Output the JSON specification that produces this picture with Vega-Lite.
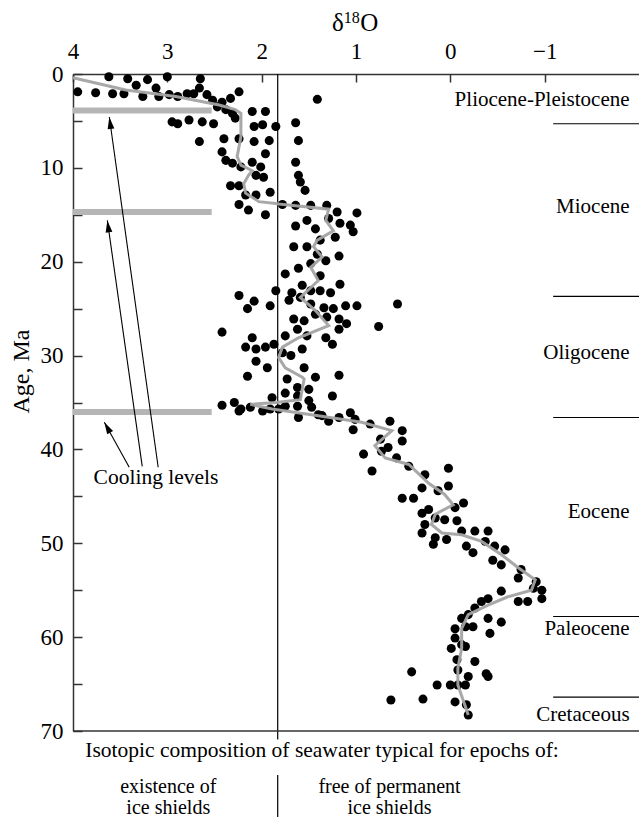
{
  "$schema": "https://vega.github.io/schema/vega-lite/v6.json",
  "width": 566,
  "height": 657,
  "autosize": "none",
  "padding": {"left": 73, "top": 74, "right": 0, "bottom": 86},
  "background": "white",
  "config": {"view": {"stroke": null}, "font": "Liberation Serif", "axis": {"grid": false}},
  "datasets": {
    "points": [
      {"d18O":3.62,"age":0.3},{"d18O":3.42,"age":0.5},{"d18O":3.21,"age":0.6},{"d18O":3.00,"age":0.3},{"d18O":2.65,"age":0.5},{"d18O":3.95,"age":1.9},{"d18O":3.76,"age":2.0},{"d18O":3.58,"age":2.1},{"d18O":3.46,"age":2.1},{"d18O":3.33,"age":1.2},{"d18O":3.26,"age":2.4},{"d18O":3.12,"age":1.5},{"d18O":3.09,"age":2.4},{"d18O":2.98,"age":2.2},{"d18O":2.89,"age":2.4},{"d18O":2.79,"age":2.1},{"d18O":2.72,"age":2.1},{"d18O":2.66,"age":1.5},{"d18O":2.58,"age":2.2},{"d18O":2.52,"age":2.8},{"d18O":2.42,"age":3.0},{"d18O":2.33,"age":2.6},{"d18O":2.24,"age":1.9},{"d18O":2.47,"age":3.5},{"d18O":2.38,"age":3.8},{"d18O":2.31,"age":4.2},{"d18O":2.10,"age":4.0},{"d18O":1.96,"age":4.0},{"d18O":2.28,"age":4.7},{"d18O":1.41,"age":2.7},
      {"d18O":2.95,"age":5.1},{"d18O":2.89,"age":5.3},{"d18O":2.77,"age":4.9},{"d18O":2.63,"age":5.1},{"d18O":2.51,"age":5.3},{"d18O":2.08,"age":5.6},{"d18O":1.99,"age":5.4},{"d18O":1.85,"age":5.6},{"d18O":1.64,"age":5.2},{"d18O":1.61,"age":7.1},{"d18O":2.66,"age":7.2},{"d18O":2.40,"age":6.9},{"d18O":2.24,"age":6.9},{"d18O":2.08,"age":7.2},{"d18O":1.92,"age":7.1},{"d18O":1.96,"age":8.5},{"d18O":2.42,"age":8.3},{"d18O":2.38,"age":9.2},{"d18O":2.31,"age":9.5},{"d18O":2.22,"age":9.9},{"d18O":2.10,"age":9.4},{"d18O":2.01,"age":9.9},{"d18O":1.64,"age":9.4},
      {"d18O":1.98,"age":11.0},{"d18O":2.06,"age":10.8},{"d18O":1.61,"age":10.8},{"d18O":1.59,"age":11.5},{"d18O":1.54,"age":12.4},{"d18O":2.33,"age":11.9},{"d18O":2.24,"age":11.9},{"d18O":2.17,"age":12.9},{"d18O":2.06,"age":12.9},{"d18O":1.91,"age":12.6},{"d18O":2.24,"age":13.9},{"d18O":2.14,"age":14.5},{"d18O":1.96,"age":15.0},{"d18O":1.78,"age":13.9},{"d18O":1.64,"age":14.0},{"d18O":1.48,"age":14.0},{"d18O":1.31,"age":14.0},
      {"d18O":1.20,"age":14.7},{"d18O":0.99,"age":14.8},{"d18O":1.29,"age":15.4},{"d18O":1.17,"age":15.9},{"d18O":1.06,"age":16.1},{"d18O":1.03,"age":16.8},{"d18O":1.64,"age":16.2},{"d18O":1.52,"age":15.6},{"d18O":1.43,"age":16.5},{"d18O":1.22,"age":17.4},{"d18O":1.38,"age":17.7},{"d18O":1.66,"age":18.4},{"d18O":1.52,"age":18.4},{"d18O":1.41,"age":19.2},{"d18O":1.32,"age":19.9},{"d18O":1.18,"age":19.4},
      {"d18O":1.61,"age":20.7},{"d18O":1.48,"age":20.2},{"d18O":1.75,"age":21.3},{"d18O":1.38,"age":21.5},{"d18O":1.57,"age":22.5},{"d18O":1.48,"age":23.1},{"d18O":1.38,"age":23.1},{"d18O":1.27,"age":23.3},{"d18O":1.17,"age":22.4},{"d18O":1.85,"age":23.1},{"d18O":1.68,"age":23.3},{"d18O":1.71,"age":24.1},{"d18O":1.59,"age":23.8},{"d18O":1.48,"age":24.5},{"d18O":1.34,"age":24.9},{"d18O":1.24,"age":25.0},{"d18O":1.11,"age":24.7},{"d18O":0.99,"age":24.7},{"d18O":0.56,"age":24.5},{"d18O":2.24,"age":23.6},{"d18O":2.08,"age":24.2},{"d18O":2.15,"age":25.0},{"d18O":1.91,"age":24.7},
      {"d18O":1.66,"age":26.1},{"d18O":1.55,"age":26.3},{"d18O":1.43,"age":25.6},{"d18O":1.31,"age":25.9},{"d18O":1.18,"age":26.1},{"d18O":1.10,"age":26.6},{"d18O":1.18,"age":27.2},{"d18O":0.76,"age":26.9},{"d18O":1.62,"age":27.2},{"d18O":1.75,"age":27.9},{"d18O":1.52,"age":27.9},{"d18O":1.32,"age":28.1},{"d18O":1.25,"age":28.8},{"d18O":2.10,"age":28.1},{"d18O":2.17,"age":29.1},{"d18O":2.06,"age":29.3},{"d18O":1.96,"age":29.1},{"d18O":1.87,"age":28.8},{"d18O":1.78,"age":29.7},{"d18O":1.69,"age":30.0},{"d18O":1.57,"age":29.3},{"d18O":2.42,"age":27.5},
      {"d18O":2.06,"age":30.6},{"d18O":1.94,"age":31.3},{"d18O":1.55,"age":31.3},{"d18O":1.43,"age":32.3},{"d18O":1.18,"age":32.1},{"d18O":2.15,"age":32.2},{"d18O":1.73,"age":32.5},{"d18O":1.25,"age":34.3},{"d18O":1.50,"age":33.6},{"d18O":1.62,"age":33.4},{"d18O":1.89,"age":34.5},{"d18O":1.75,"age":34.0},{"d18O":1.62,"age":34.3},
      {"d18O":2.42,"age":35.3},{"d18O":2.29,"age":35.0},{"d18O":2.22,"age":35.7},{"d18O":2.12,"age":35.5},{"d18O":1.99,"age":35.9},{"d18O":1.91,"age":35.7},{"d18O":1.82,"age":35.7},{"d18O":1.75,"age":35.4},{"d18O":1.62,"age":35.4},{"d18O":1.50,"age":34.8},{"d18O":1.47,"age":35.5},{"d18O":1.61,"age":36.6},{"d18O":1.36,"age":36.4},{"d18O":1.18,"age":36.6},{"d18O":1.06,"age":36.1},{"d18O":1.03,"age":37.9},{"d18O":2.24,"age":35.9},{"d18O":1.40,"age":36.3},{"d18O":1.29,"age":37.0},{"d18O":1.01,"age":36.8},{"d18O":0.85,"age":37.3},{"d18O":0.64,"age":37.0},{"d18O":0.51,"age":38.0},{"d18O":0.51,"age":39.1},{"d18O":0.74,"age":38.9},{"d18O":0.66,"age":39.8},
      {"d18O":0.92,"age":40.5},{"d18O":0.83,"age":42.3},{"d18O":0.73,"age":40.2},{"d18O":0.57,"age":40.9},{"d18O":0.44,"age":41.8},{"d18O":0.27,"age":42.7},{"d18O":0.30,"age":44.1},{"d18O":0.02,"age":42.0},{"d18O":0.02,"age":43.9},{"d18O":0.51,"age":45.2},{"d18O":0.39,"age":45.2},{"d18O":0.13,"age":44.4},{"d18O":-0.14,"age":45.7},{"d18O":-0.05,"age":46.2},{"d18O":0.30,"age":46.8},{"d18O":0.23,"age":46.4},{"d18O":0.27,"age":48.0},{"d18O":0.30,"age":48.9},{"d18O":0.16,"age":47.3},{"d18O":0.06,"age":47.5},{"d18O":0.16,"age":49.4},{"d18O":0.18,"age":50.1},{"d18O":0.04,"age":49.6},{"d18O":-0.07,"age":47.6},{"d18O":-0.12,"age":48.7},{"d18O":-0.26,"age":48.7},{"d18O":-0.40,"age":48.7},{"d18O":-0.17,"age":50.3},{"d18O":-0.24,"age":51.0},{"d18O":-0.37,"age":49.8},{"d18O":-0.47,"age":50.3},{"d18O":-0.58,"age":50.7},{"d18O":-0.45,"age":51.8},{"d18O":-0.54,"age":52.3},
      {"d18O":-0.75,"age":52.8},{"d18O":-0.72,"age":53.7},{"d18O":-0.91,"age":54.1},{"d18O":-0.88,"age":54.8},{"d18O":-0.97,"age":55.0},{"d18O":-0.97,"age":55.9},{"d18O":-0.82,"age":56.2},{"d18O":-0.72,"age":56.2},{"d18O":-0.54,"age":55.1},{"d18O":-0.40,"age":55.9},{"d18O":-0.33,"age":56.2},{"d18O":-0.26,"age":56.9},{"d18O":-0.19,"age":57.6},{"d18O":-0.12,"age":58.0},{"d18O":-0.40,"age":58.0},{"d18O":-0.54,"age":58.4},{"d18O":-0.42,"age":59.6},{"d18O":-0.05,"age":59.1},{"d18O":-0.16,"age":58.9},{"d18O":-0.24,"age":58.9},
      {"d18O":-0.05,"age":60.1},{"d18O":-0.12,"age":60.8},{"d18O":-0.01,"age":61.2},{"d18O":-0.16,"age":61.0},{"d18O":-0.26,"age":62.6},{"d18O":-0.07,"age":62.4},{"d18O":-0.08,"age":63.5},{"d18O":-0.19,"age":64.2},{"d18O":-0.38,"age":63.9},{"d18O":-0.40,"age":64.2},{"d18O":0.00,"age":65.1},{"d18O":-0.08,"age":65.1},{"d18O":-0.16,"age":65.1},{"d18O":0.41,"age":63.7},{"d18O":0.14,"age":65.1},{"d18O":0.63,"age":66.7},{"d18O":0.29,"age":66.6},{"d18O":-0.05,"age":66.9},{"d18O":-0.17,"age":67.2},{"d18O":-0.19,"age":68.3}
    ],
    "curve": [
      {"d18O":4.0,"age":0.4},{"d18O":3.44,"age":1.7},{"d18O":2.91,"age":2.4},{"d18O":2.45,"age":3.3},{"d18O":2.28,"age":3.8},{"d18O":2.22,"age":4.2},{"d18O":2.22,"age":6.7},{"d18O":2.26,"age":8.8},{"d18O":2.22,"age":9.7},{"d18O":2.10,"age":10.3},{"d18O":2.14,"age":10.8},{"d18O":2.19,"age":11.7},{"d18O":2.17,"age":12.7},{"d18O":2.03,"age":13.6},{"d18O":1.85,"age":13.8},{"d18O":1.82,"age":13.85},{"d18O":1.29,"age":14.4},{"d18O":1.32,"age":15.6},{"d18O":1.24,"age":16.7},{"d18O":1.41,"age":17.7},{"d18O":1.45,"age":18.4},{"d18O":1.36,"age":19.5},{"d18O":1.48,"age":20.6},{"d18O":1.40,"age":22.0},{"d18O":1.59,"age":23.8},{"d18O":1.43,"age":25.2},{"d18O":1.29,"age":26.8},{"d18O":1.61,"age":28.1},{"d18O":1.78,"age":29.1},{"d18O":1.82,"age":30.2},{"d18O":1.75,"age":31.3},{"d18O":1.57,"age":32.3},{"d18O":1.55,"age":32.5},{"d18O":1.59,"age":34.7},{"d18O":1.85,"age":35.0},{"d18O":2.12,"age":35.2},{"d18O":1.89,"age":35.7},{"d18O":1.40,"age":36.4},{"d18O":0.94,"age":37.1},{"d18O":0.62,"age":38.0},{"d18O":0.80,"age":39.6},{"d18O":0.69,"age":40.9},{"d18O":0.44,"age":41.6},{"d18O":0.23,"age":43.6},{"d18O":0.06,"age":44.8},{"d18O":-0.03,"age":45.9},{"d18O":0.16,"age":46.9},{"d18O":0.20,"age":48.0},{"d18O":0.09,"age":48.9},{"d18O":-0.12,"age":49.1},{"d18O":-0.33,"age":49.8},{"d18O":-0.54,"age":51.2},{"d18O":-0.72,"age":52.6},{"d18O":-0.90,"age":53.9},{"d18O":-0.86,"age":55.0},{"d18O":-0.61,"age":55.7},{"d18O":-0.40,"age":56.6},{"d18O":-0.19,"age":57.6},{"d18O":-0.12,"age":59.1},{"d18O":-0.12,"age":61.2},{"d18O":-0.08,"age":63.3},{"d18O":-0.08,"age":65.1},{"d18O":-0.19,"age":68.3}
    ],
    "cooling": [
      {"d18O":4.0,"d18O_end":2.53,"age":3.9},
      {"d18O":4.0,"d18O_end":2.53,"age":14.7},
      {"d18O":4.0,"d18O_end":2.53,"age":36.0}
    ],
    "epochs": [
      {"d18O":-1.09,"d18O_end":-2.0,"age":5.3},
      {"d18O":-1.09,"d18O_end":-2.0,"age":23.7},
      {"d18O":-1.09,"d18O_end":-2.0,"age":36.6},
      {"d18O":-1.09,"d18O_end":-2.0,"age":57.8},
      {"d18O":-1.09,"d18O_end":-2.0,"age":66.4}
    ],
    "epochLabels": [
      {"d18O":-1.90,"age":2.8,"label":"Pliocene-Pleistocene"},
      {"d18O":-1.90,"age":14.2,"label":"Miocene"},
      {"d18O":-1.90,"age":29.7,"label":"Oligocene"},
      {"d18O":-1.90,"age":46.7,"label":"Eocene"},
      {"d18O":-1.90,"age":59.1,"label":"Paleocene"},
      {"d18O":-1.90,"age":68.3,"label":"Cretaceous"}
    ],
    "divider": [
      {"d18O":1.83,"age":0,"age_end":70.9},
      {"d18O":1.83,"age":74.7,"age_end":79.5}
    ],
    "bottomLine": [{"d18O":4.0,"d18O_end":-2.0,"age":70}],
    "arrows": [
      {"arrow":1,"d18O":3.097,"age":41.9,"tipX":3.615,"tipAge":4.58},
      {"arrow":2,"d18O":3.266,"age":41.8,"tipX":3.636,"tipAge":15.6},
      {"arrow":3,"d18O":3.404,"age":41.9,"tipX":3.668,"tipAge":37.1}
    ],
    "notes": [
      {"d18O":3.12,"age":43.0,"label":"Cooling levels"},
      {"d18O":1.36,"age":72.1,"label":"Isotopic composition of seawater typical for epochs of:"}
    ],
    "notes2": [
      {"d18O":2.99,"age":75.95,"label":"existence of"},
      {"d18O":2.99,"age":78.2,"label":"ice shields"},
      {"d18O":0.645,"age":75.95,"label":"free of permanent"},
      {"d18O":0.645,"age":78.2,"label":"ice shields"}
    ],
    "titleBig": [
      {"d18O":1.13,"age":-5.43,"label":"δ"}
    ],
    "titleO": [
      {"d18O":0.955,"age":-5.43,"label":"O"}
    ],
    "titleSup": [
      {"d18O":1.13,"age":-5.97,"label":"18"}
    ]
  },
  "layer": [
    {
      "data": {"name": "cooling"},
      "mark": {"type": "rule", "stroke": "#b5b5b5", "strokeWidth": 6},
      "encoding": {
        "x": {"field": "d18O", "type": "quantitative",
          "scale": {"domain": [-2, 4], "reverse": true, "nice": false, "zero": false},
          "axis": {"orient": "top", "values": [4, 3, 2, 1, 0, -1], "format": "d", "title": null,
            "labelFont": "Liberation Serif", "labelFontSize": 23, "labelColor": "black",
            "tickSize": -8, "tickColor": "#333", "tickWidth": 1.5, "domainColor": "#333", "domainWidth": 1.5,
            "labelPadding": 19, "labelFlush": false, "grid": false}},
        "x2": {"field": "d18O_end"},
        "y": {"field": "age", "type": "quantitative",
          "scale": {"domain": [0, 70], "reverse": true, "nice": false, "zero": false},
          "axis": {"values": [0, 5, 10, 15, 20, 25, 30, 35, 40, 45, 50, 55, 60, 65, 70],
            "labelExpr": "datum.value % 10 === 0 ? datum.label : ''",
            "title": "Age, Ma", "titleFont": "Liberation Serif", "titleFontSize": 24, "titleFontWeight": "normal", "titleColor": "black",
            "titleX": -52, "titleY": 297, "titleAngle": -90, "titleAlign": "center", "titleBaseline": "middle",
            "labelFont": "Liberation Serif", "labelFontSize": 23, "labelColor": "black",
            "tickSize": -9, "tickColor": "#333", "tickWidth": 1.5, "domainColor": "#333", "domainWidth": 1.5,
            "labelPadding": 19, "labelFlush": false, "grid": false}}
      }
    },
    {
      "data": {"name": "divider"},
      "mark": {"type": "rule", "stroke": "black", "strokeWidth": 1.2},
      "encoding": {
        "x": {"field": "d18O", "type": "quantitative"},
        "y": {"field": "age", "type": "quantitative"},
        "y2": {"field": "age_end"}
      }
    },
    {
      "data": {"name": "bottomLine"},
      "mark": {"type": "rule", "stroke": "#333", "strokeWidth": 1.5},
      "encoding": {
        "x": {"field": "d18O", "type": "quantitative"},
        "x2": {"field": "d18O_end"},
        "y": {"field": "age", "type": "quantitative"}
      }
    },
    {
      "data": {"name": "epochs"},
      "mark": {"type": "rule", "stroke": "black", "strokeWidth": 1.2},
      "encoding": {
        "x": {"field": "d18O", "type": "quantitative"},
        "x2": {"field": "d18O_end"},
        "y": {"field": "age", "type": "quantitative"}
      }
    },
    {
      "data": {"name": "points"},
      "mark": {"type": "circle", "color": "black", "opacity": 1, "size": 82},
      "encoding": {
        "x": {"field": "d18O", "type": "quantitative"},
        "y": {"field": "age", "type": "quantitative"}
      }
    },
    {
      "data": {"name": "curve"},
      "mark": {"type": "line", "stroke": "#a3a3a3", "strokeWidth": 3, "opacity": 0.95},
      "encoding": {
        "x": {"field": "d18O", "type": "quantitative"},
        "y": {"field": "age", "type": "quantitative"},
        "order": {"field": "age", "type": "quantitative"}
      }
    },
    {
      "data": {"name": "arrows"},
      "mark": {"type": "rule", "stroke": "black", "strokeWidth": 1.1},
      "encoding": {
        "x": {"field": "d18O", "type": "quantitative"},
        "y": {"field": "age", "type": "quantitative"},
        "x2": {"field": "tipX"},
        "y2": {"field": "tipAge"}
      }
    },
    {
      "data": {"name": "arrows"},
      "transform": [{"filter": "datum.arrow < 3"}],
      "mark": {"type": "point", "shape": "M0,0L-0.45,1.6L0.45,1.6Z", "filled": true, "color": "black", "opacity": 1, "size": 225, "angle": -8, "strokeWidth": 0},
      "encoding": {
        "x": {"field": "tipX", "type": "quantitative"},
        "y": {"field": "tipAge", "type": "quantitative"}
      }
    },
    {
      "data": {"name": "arrows"},
      "transform": [{"filter": "datum.arrow == 3"}],
      "mark": {"type": "point", "shape": "M0,0L-0.45,1.6L0.45,1.6Z", "filled": true, "color": "black", "opacity": 1, "size": 225, "angle": -29, "strokeWidth": 0},
      "encoding": {
        "x": {"field": "tipX", "type": "quantitative"},
        "y": {"field": "tipAge", "type": "quantitative"}
      }
    },
    {
      "data": {"name": "epochLabels"},
      "mark": {"type": "text", "align": "right", "baseline": "middle", "font": "Liberation Serif", "fontSize": 21, "color": "black"},
      "encoding": {
        "x": {"field": "d18O", "type": "quantitative"},
        "y": {"field": "age", "type": "quantitative"},
        "text": {"field": "label"}
      }
    },
    {
      "data": {"name": "notes"},
      "mark": {"type": "text", "align": "center", "baseline": "middle", "font": "Liberation Serif", "fontSize": 21.5, "color": "black"},
      "encoding": {
        "x": {"field": "d18O", "type": "quantitative"},
        "y": {"field": "age", "type": "quantitative"},
        "text": {"field": "label"}
      }
    },
    {
      "data": {"name": "notes2"},
      "mark": {"type": "text", "align": "center", "baseline": "middle", "font": "Liberation Serif", "fontSize": 20, "color": "black"},
      "encoding": {
        "x": {"field": "d18O", "type": "quantitative"},
        "y": {"field": "age", "type": "quantitative"},
        "text": {"field": "label"}
      }
    },
    {
      "data": {"name": "titleBig"},
      "mark": {"type": "text", "align": "right", "baseline": "middle", "font": "Liberation Serif", "fontSize": 25, "color": "black"},
      "encoding": {
        "x": {"field": "d18O", "type": "quantitative"},
        "y": {"field": "age", "type": "quantitative"},
        "text": {"field": "label"}
      }
    },
    {
      "data": {"name": "titleO"},
      "mark": {"type": "text", "align": "left", "baseline": "middle", "font": "Liberation Serif", "fontSize": 25, "color": "black"},
      "encoding": {
        "x": {"field": "d18O", "type": "quantitative"},
        "y": {"field": "age", "type": "quantitative"},
        "text": {"field": "label"}
      }
    },
    {
      "data": {"name": "titleSup"},
      "mark": {"type": "text", "align": "left", "baseline": "middle", "font": "Liberation Serif", "fontSize": 16, "color": "black"},
      "encoding": {
        "x": {"field": "d18O", "type": "quantitative"},
        "y": {"field": "age", "type": "quantitative"},
        "text": {"field": "label"}
      }
    }
  ]
}
